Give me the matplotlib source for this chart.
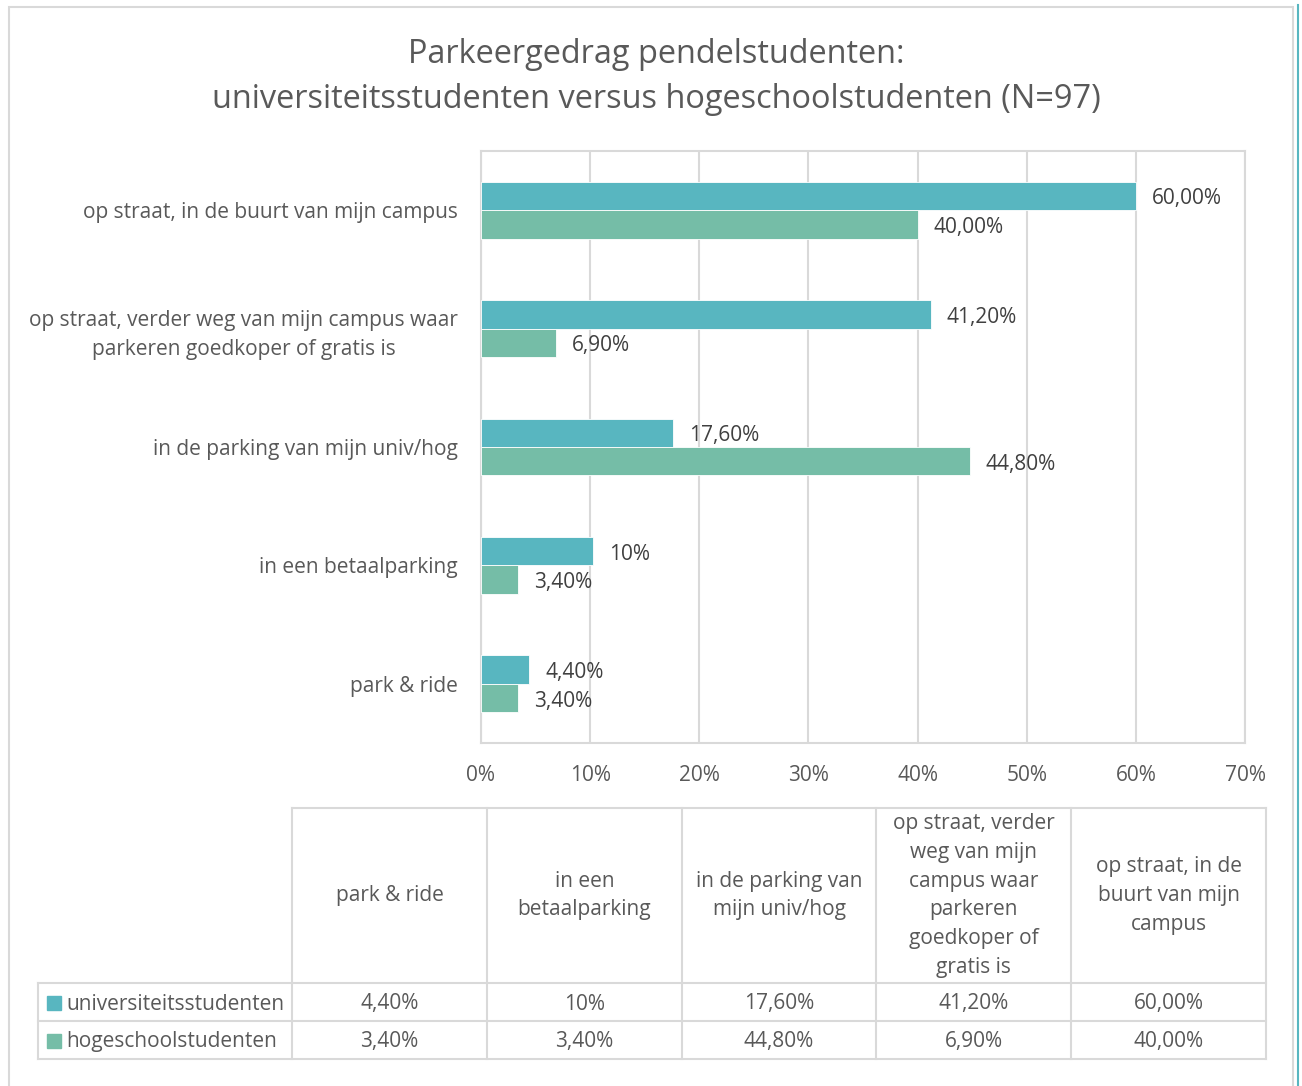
import matplotlib
matplotlib.use("Agg")
import matplotlib.pyplot as plt
from matplotlib.patches import Rectangle
from matplotlib.lines import Line2D

# data (order as in the data table; bars are drawn bottom -> top)
categorieen = ["park & ride", "in een betaalparking", "in de parking van mijn univ/hog",
               "op straat, verder weg van mijn campus waar\nparkeren goedkoper of gratis is",
               "op straat, in de buurt van mijn campus"]
kop_tabel = ["park & ride", "in een\nbetaalparking", "in de parking van\nmijn univ/hog",
             "op straat, verder\nweg van mijn\ncampus waar\nparkeren\ngoedkoper of\ngratis is",
             "op straat, in de\nbuurt van mijn\ncampus"]
univ = [4.4, 10.3, 17.6, 41.2, 60.0]
hog = [3.4, 3.4, 44.8, 6.9, 40.0]
univ_labels = ["4,40%", "10%", "17,60%", "41,20%", "60,00%"]
hog_labels = ["3,40%", "3,40%", "44,80%", "6,90%", "40,00%"]
reeksen = ["universiteitsstudenten", "hogeschoolstudenten"]
ticks = [0, 10, 20, 30, 40, 50, 60, 70]

KLEUR_UNIV = "#58B6C0"
KLEUR_HOG = "#75BDA7"
TEKST = "#595959"
LIJN = "#D9D9D9"
FS = 15

plt.rcParams["font.family"] = ["Open Sans", "DejaVu Sans"]

W, H = 1302, 1086
fig = plt.figure(figsize=(W / 100, H / 100), dpi=100)

def fx(x):
    return x / W

def fy(y):
    return 1 - y / H

# rand van de grafiek
fig.add_artist(Rectangle((fx(9), fy(1090)), fx(1293 - 9), fy(7) - fy(1090),
                         transform=fig.transFigure, fill=False, edgecolor=LIJN, lw=1.5))
fig.add_artist(Line2D([fx(1298), fx(1298)], [0, fy(5)], transform=fig.transFigure,
                      color=KLEUR_UNIV, lw=1.5))

# titel
fig.text(0.504, fy(77), "Parkeergedrag pendelstudenten:\nuniversiteitsstudenten versus hogeschoolstudenten (N=97)",
         ha="center", va="center", fontsize=23.4, color=TEKST, linespacing=1.5)

ax = fig.add_axes([fx(481), fy(743), fx(1245 - 481), fy(151) - fy(743)])
y = list(range(len(categorieen)))
h = 0.24
ax.barh([v + h / 2 for v in y], univ, height=h, color=KLEUR_UNIV, edgecolor="white", lw=0.6, zorder=3)
ax.barh([v - h / 2 for v in y], hog, height=h, color=KLEUR_HOG, edgecolor="white", lw=0.6, zorder=3)

for i in y:
    ax.annotate(univ_labels[i], (univ[i], i + h / 2), xytext=(16, -3), textcoords="offset pixels",
                ha="left", va="center", fontsize=FS, color="#404040")
    ax.annotate(hog_labels[i], (hog[i], i - h / 2), xytext=(16, -3), textcoords="offset pixels",
                ha="left", va="center", fontsize=FS, color="#404040")

ax.set_xlim(0, 70)
ax.set_ylim(-0.5, len(categorieen) - 0.5)
ax.set_xticks(ticks)
ax.set_xticklabels([f"{t}%" for t in ticks])
ax.set_yticks(y)
ax.set_yticklabels(categorieen, multialignment="center")
for lbl in ax.get_yticklabels():
    lbl.set_linespacing(1.48)
ax.tick_params(axis="both", length=0, labelsize=FS, colors=TEKST)
ax.tick_params(axis="x", pad=16)
ax.tick_params(axis="y", pad=16.5)
ax.grid(axis="x", color=LIJN, lw=1.5, zorder=0)
for s in ax.spines.values():
    s.set_color(LIJN)
    s.set_linewidth(1.5)

# datatabel
kol_x = [292, 487, 682, 876, 1071, 1266]
rij_y = [808, 983, 1021, 1059]
links = 38

def lijn(x0, y0, x1, y1):
    fig.add_artist(Line2D([fx(x0), fx(x1)], [fy(y0), fy(y1)], transform=fig.transFigure,
                          color=LIJN, lw=1.5))

lijn(kol_x[0], rij_y[0], kol_x[-1], rij_y[0])
for r in rij_y[1:]:
    lijn(links, r, kol_x[-1], r)
lijn(links, rij_y[1], links, rij_y[-1])
for k in kol_x:
    lijn(k, rij_y[0], k, rij_y[-1])

for j, kop in enumerate(kop_tabel):
    xm = (kol_x[j] + kol_x[j + 1]) / 2
    fig.text(fx(xm), fy((rij_y[0] + rij_y[1]) / 2), kop, ha="center", va="center",
             fontsize=FS, color=TEKST, linespacing=1.48)

for r, (naam, kleur, waarden) in enumerate(zip(reeksen, [KLEUR_UNIV, KLEUR_HOG], [univ_labels, hog_labels])):
    ym = (rij_y[r + 1] + rij_y[r + 2]) / 2
    fig.add_artist(Rectangle((fx(47), fy(ym + 8)), fx(14), fy(ym - 6) - fy(ym + 8),
                             transform=fig.transFigure, color=kleur))
    fig.text(fx(66), fy(ym + 2), naam, ha="left", va="center", fontsize=FS, color=TEKST)
    for j, w in enumerate(waarden):
        xm = (kol_x[j] + kol_x[j + 1]) / 2
        fig.text(fx(xm), fy(ym + 2), w, ha="center", va="center", fontsize=FS, color=TEKST)

fig.savefig("out.png", dpi=100, facecolor="white")
